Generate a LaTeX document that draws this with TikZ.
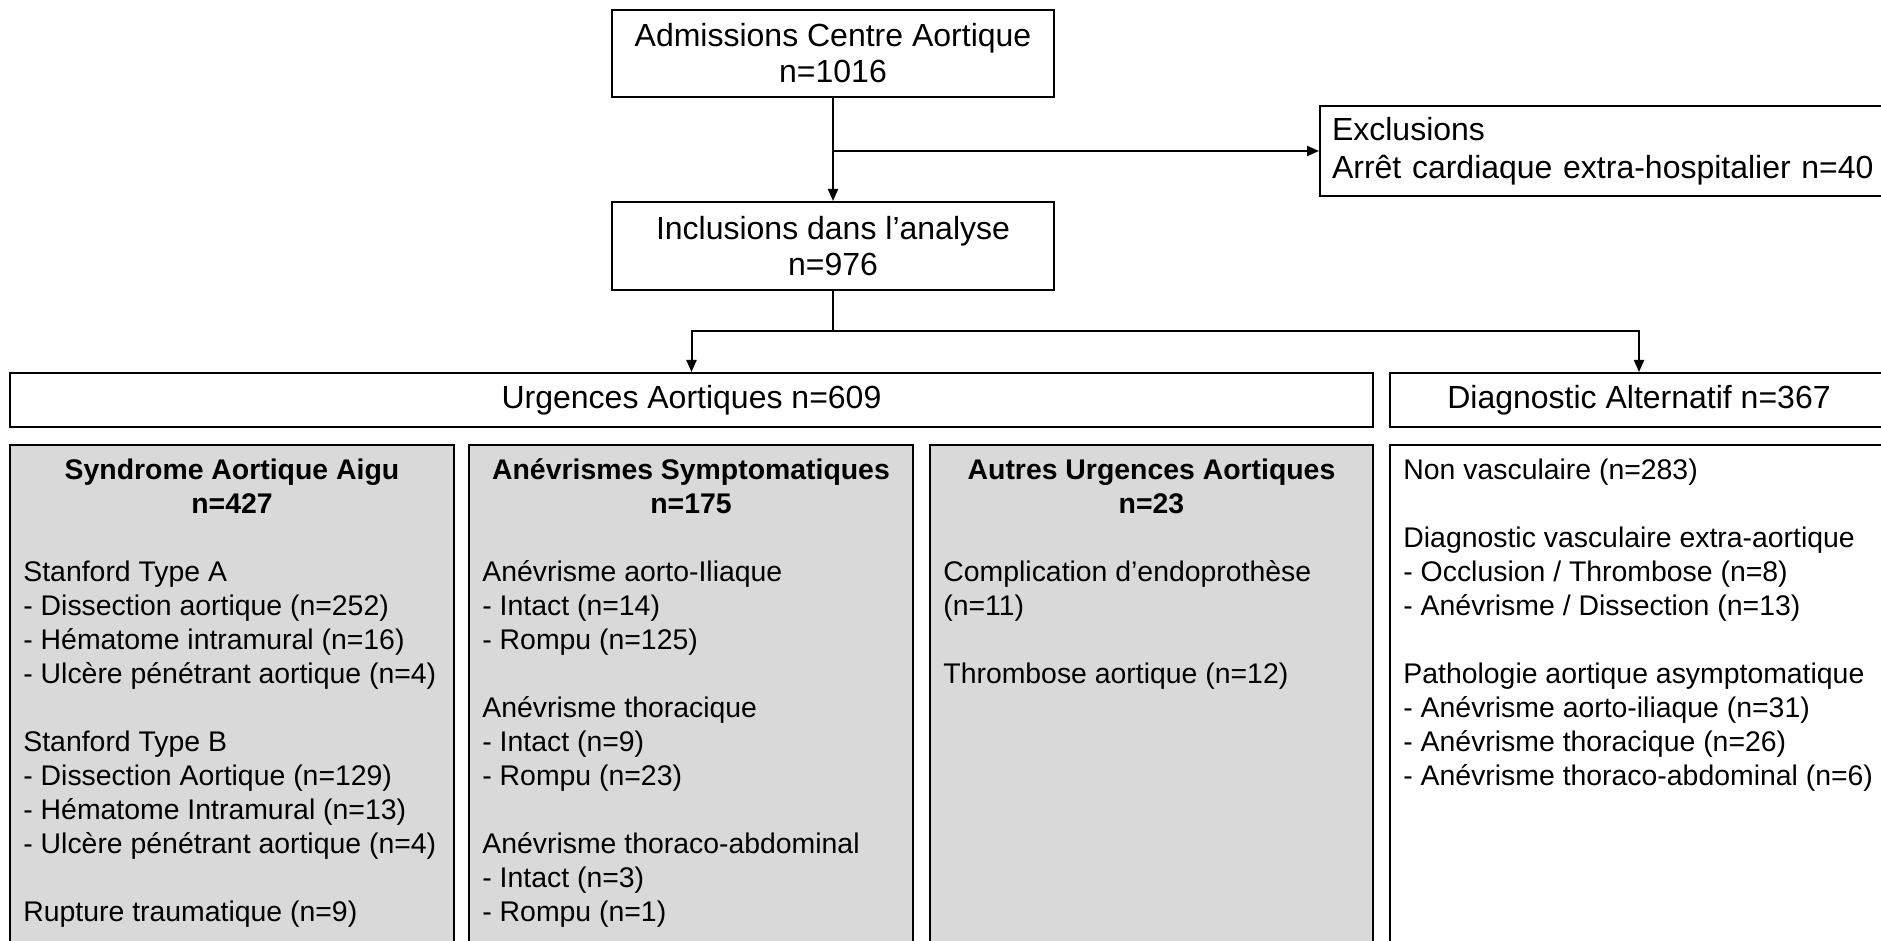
\documentclass[tikz,border=0pt]{standalone}
\usepackage{fontspec}
\setmainfont{Liberation Sans}
\usetikzlibrary{arrows.meta}
\definecolor{boxgrey}{RGB}{217,217,217}
\tikzset{
  box/.style={draw=black, line width=1pt, inner sep=0pt, align=center, font=\fontsize{16}{18}\selectfont},
  catbox/.style={draw=black, line width=1pt, fill=boxgrey, inner sep=0pt, minimum height=257.5pt},
  head/.style={inner sep=0pt, align=center, font=\bfseries\fontsize{14.2}{17}\selectfont},
  body/.style={inner sep=0pt, align=left, font=\fontsize{14.2}{17}\selectfont},
  flow/.style={line width=1pt, -{Triangle[length=6pt,width=5pt]}}
}
\begin{document}
\begin{tikzpicture}[x=0.5pt,y=-0.5pt]
\useasboundingbox (0,0) rectangle (1881,941);
\clip (0,0) rectangle (1881,941);
\fill[white] (0,0) rectangle (1881,941);

\node[box, minimum width=221pt, minimum height=43.5pt] (adm) at (833,53.5) {Admissions Centre Aortique\\n=1016};
\node[box, minimum width=221pt, minimum height=44pt] (incl) at (833,246) {Inclusions dans l’analyse\\n=976};
\node[box, align=left, text width=273pt, inner xsep=6pt, minimum height=45pt,
      font=\fontsize{16}{19}\selectfont] (excl) at (1605,151) {Exclusions\\Arrêt cardiaque extra-hospitalier n=40};

\node[box, minimum width=681.5pt, minimum height=27pt] (urg) at (691.5,400) {Urgences Aortiques n=609};
\node[box, minimum width=249pt, minimum height=27pt] (diag) at (1639,400) {Diagnostic Alternatif n=367};

% categories
\node[catbox, minimum width=222pt] (saa) at (232,702.5) {};
\node[catbox, minimum width=222pt] (anev) at (691,702.5) {};
\node[catbox, minimum width=221.5pt] (autre) at (1151.5,702.5) {};
\node[catbox, fill=white, minimum width=249pt] (alt) at (1639,702.5) {};

\node[head, anchor=north] (saahead) at ([yshift=-5.6pt]saa.north) {\strut Syndrome Aortique Aigu\\n=427};
\node[body, anchor=north west] (saabody) at ([xshift=7pt,yshift=-56.6pt]saa.north west)
  {\strut Stanford Type A\\- Dissection aortique (n=252)\\- Hématome intramural (n=16)\\- Ulcère pénétrant aortique (n=4)\\[17pt]
   Stanford Type B\\- Dissection Aortique (n=129)\\- Hématome Intramural (n=13)\\- Ulcère pénétrant aortique (n=4)\\[17pt]
   Rupture traumatique (n=9)};

\node[head, anchor=north] (anevhead) at ([yshift=-5.6pt]anev.north) {\strut Anévrismes Symptomatiques\\n=175};
\node[body, anchor=north west] (anevbody) at ([xshift=7pt,yshift=-56.6pt]anev.north west)
  {\strut Anévrisme aorto-Iliaque\\- Intact (n=14)\\- Rompu (n=125)\\[17pt]
   Anévrisme thoracique\\- Intact (n=9)\\- Rompu (n=23)\\[17pt]
   Anévrisme thoraco-abdominal\\- Intact (n=3)\\- Rompu (n=1)};

\node[head, anchor=north] (autrehead) at ([yshift=-5.6pt]autre.north) {\strut Autres Urgences Aortiques\\n=23};
\node[body, anchor=north west] (autrebody) at ([xshift=7pt,yshift=-56.6pt]autre.north west)
  {\strut Complication d’endoprothèse\\(n=11)\\[17pt]
   Thrombose aortique (n=12)};

\node[body, anchor=north west] (altbody) at ([xshift=7pt,yshift=-5.6pt]alt.north west)
  {\strut Non vasculaire (n=283)\\[17pt]
   Diagnostic vasculaire extra-aortique\\- Occlusion / Thrombose (n=8)\\- Anévrisme / Dissection (n=13)\\[17pt]
   Pathologie aortique asymptomatique\\- Anévrisme aorto-iliaque (n=31)\\- Anévrisme thoracique (n=26)\\- Anévrisme thoraco-abdominal (n=6)};

\coordinate (excljoin) at (833,151);
\coordinate (split) at (833,331);
\draw[flow] (adm.south) -- (incl.north);
\draw[flow] (excljoin) -- (excl.west);
\draw[line width=1pt] (incl.south) -- (split);
\draw[flow] (split) -| (urg.north);
\draw[flow] (split) -| (diag.north);
\end{tikzpicture}
\end{document}
